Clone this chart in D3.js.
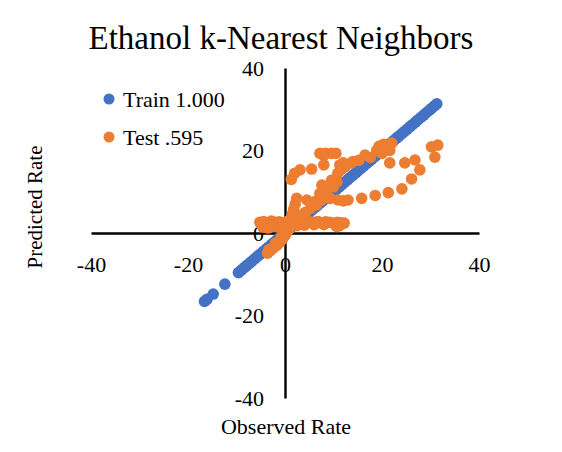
<!DOCTYPE html>
<html>
<head>
<meta charset="utf-8">
<script src="https://cdn.jsdelivr.net/npm/d3@7"></script>
<style>
  body { margin: 0; background: #fff; }
  svg text { font-family: "Liberation Serif", "Times New Roman", serif; fill: #000; }
</style>
</head>
<body>
<div id="chart"></div>
<script>
// chart data
var chartTitle = "Ethanol k-Nearest Neighbors";
var xTitle = "Observed Rate";
var yTitle = "Predicted Rate";
var seriesNames = ["Train 1.000", "Test .595"];
var tickValues = [-40, -20, 0, 20, 40];

var trainObserved = [-16.6, -16.1, -14.8, -12.4, -9.6, -9.0, -8.4, -7.9, -7.3, -6.8, -6.2, -5.6, -5.1, -4.5,
  -3.9, -3.4, -2.8, -2.3, -1.7, -1.1, -0.6, 0.0, 0.6, 1.1, 1.7, 2.2, 2.8, 3.4, 3.9, 4.5, 5.0, 5.6, 6.2, 6.7,
  7.3, 7.8, 8.4, 9.0, 9.5, 10.1, 10.6, 11.2, 11.8, 12.3, 12.9, 13.4, 14.0, 14.6, 15.1, 15.7, 16.2, 16.8,
  17.4, 17.9, 18.5, 19.0, 19.6, 20.2, 20.7, 21.3, 21.8, 22.4, 23.0, 23.5, 24.1, 24.6, 25.2, 25.8, 26.3,
  26.9, 27.4, 28.0, 28.6, 29.1, 29.7, 30.2, 30.8, 31.3];
var trainPredicted = [-16.6, -16.1, -14.8, -12.4, -9.6, -9.0, -8.4, -7.9, -7.3, -6.8, -6.2, -5.6, -5.1, -4.5,
  -3.9, -3.4, -2.8, -2.3, -1.7, -1.1, -0.6, 0.0, 0.6, 1.1, 1.7, 2.2, 2.8, 3.4, 3.9, 4.5, 5.0, 5.6, 6.2, 6.7,
  7.3, 7.8, 8.4, 9.0, 9.5, 10.1, 10.6, 11.2, 11.8, 12.3, 12.9, 13.4, 14.0, 14.6, 15.1, 15.7, 16.2, 16.8,
  17.4, 17.9, 18.5, 19.0, 19.6, 20.2, 20.7, 21.3, 21.8, 22.4, 23.0, 23.5, 24.1, 24.6, 25.2, 25.8, 26.3,
  26.9, 27.4, 28.0, 28.6, 29.1, 29.7, 30.2, 30.8, 31.3];

var testObserved = [
  -5.2, -4.4, -3.6, -2.8, -2.0, -1.2, -0.4, 0.4, 1.2, 2.0, 2.8, 3.6, 4.4, 5.2, 6.0, 6.8, 7.6, 8.4, 9.2, 10.0,
  10.8, 11.6, 12.2, 10.6, 11.2, -4.6, -3.5, -2.5, -1.4, -0.3, 0.8, 2.5, 4.0, 6.0, 8.0,
  -3.6, -3.0, -2.4, -1.7, -1.1, -0.5, 0.0, 0.4, 0.9, 1.3, -3.3, -2.0, -0.8,
  1.2, 1.5, 1.8, 2.1, 2.4, 3.0, 4.2, 5.3, 6.5,
  4.5, 6.2, 7.6, 9.3, 10.9, 12.0, 13.0, 15.8, 18.6, 21.3, 24.1, 26.1, 27.8, 26.8, 24.7,
  7.6, 8.2, 9.6, 10.7, 10.9, 11.6, 12.4, 13.7, 12.0, 11.3, 14.0, 15.2, 16.5, 17.6, 18.9, 19.4, 20.3,
  21.2, 22.0, 21.6, 20.0, 21.6, 7.2, 8.5, 10.0,
  1.3, 2.0, 3.1, 5.5, 8.0, 8.0, 7.2, 8.4, 9.6, 10.5,
  30.2, 31.5, 30.9];
var testPredicted = [
  2.6, 2.8, 2.5, 2.9, 2.6, 2.7, 2.5, 2.8, 2.6, 2.9, 2.6, 2.8, 2.5, 2.7, 2.6, 2.8, 2.5, 2.7, 2.6, 2.4,
  2.6, 2.5, 2.4, 1.6, 1.7, 1.4, 1.2, 1.6, 1.5, 1.3, 1.6, 1.8, 1.9, 2.0, 2.0,
  -4.9, -4.3, -3.6, -3.0, -2.3, -1.5, -0.6, 0.2, 1.0, 1.8, -4.0, -2.5, -1.0,
  3.4, 4.6, 5.8, 7.0, 8.4, 4.2, 5.0, 6.0, 6.8,
  8.0, 7.6, 8.0, 8.4, 8.0, 7.8, 8.0, 8.4, 9.1, 9.8, 10.7, 13.1, 15.3, 17.7, 17.0,
  11.6, 11.0, 12.8, 12.4, 14.5, 15.4, 16.1, 17.0, 17.0, 16.5, 17.3, 17.6, 18.9, 18.3, 20.0, 21.0, 21.5,
  20.4, 21.8, 20.0, 19.3, 17.0, 9.6, 10.2, 11.2,
  13.0, 14.5, 15.3, 15.5, 16.5, 18.8, 19.3, 19.3, 19.3, 19.3,
  20.9, 21.3, 18.4];

var colors = ["#4472C4", "#ED7D31"];

var width = 562, height = 452;

var svg = d3.select("#chart").append("svg")
  .attr("width", width)
  .attr("height", height);

var x = d3.scaleLinear().domain([-40, 40]).range([91, 479]);
var y = d3.scaleLinear().domain([-40, 40]).range([398, 68]);

// plain hyphen for negatives, like the original
var fmt = function(d){ return String(d); };

// axes cross at the origin, no tick marks
var xAxis = svg.append("g")
  .attr("transform", "translate(0," + y(0) + ")")
  .call(d3.axisBottom(x).tickValues(tickValues).tickFormat(fmt).tickSize(0).tickSizeOuter(0).tickPadding(23));
var yAxis = svg.append("g")
  .attr("transform", "translate(" + x(0) + ",0)")
  .call(d3.axisLeft(y).tickValues(tickValues).tickFormat(fmt).tickSize(0).tickSizeOuter(0).tickPadding(21));

[xAxis, yAxis].forEach(function(g){
  g.select(".domain").attr("stroke", "#000").attr("stroke-width", 2.4);
  g.selectAll("text")
    .style("font-family", "'Liberation Serif', 'Times New Roman', serif")
    .style("font-size", "22px")
    .attr("fill", "#000");
});

// points
var train = trainObserved.map(function(d, i){ return [d, trainPredicted[i]]; });
var test = testObserved.map(function(d, i){ return [d, testPredicted[i]]; });

svg.append("g").selectAll("circle")
  .data(train)
  .enter().append("circle")
  .attr("cx", function(d){ return x(d[0]); })
  .attr("cy", function(d){ return y(d[1]); })
  .attr("r", 5.8)
  .attr("fill", colors[0]);

svg.append("g").selectAll("circle")
  .data(test)
  .enter().append("circle")
  .attr("cx", function(d){ return x(d[0]); })
  .attr("cy", function(d){ return y(d[1]); })
  .attr("r", 5.8)
  .attr("fill", colors[1]);

// title
svg.append("text")
  .attr("x", 281)
  .attr("y", 49)
  .attr("text-anchor", "middle")
  .style("font-size", "33px")
  .text(chartTitle);

// axis titles
svg.append("text")
  .attr("x", 286)
  .attr("y", 434)
  .attr("text-anchor", "middle")
  .style("font-size", "22px")
  .text(xTitle);

svg.append("text")
  .attr("transform", "translate(42,207) rotate(-90)")
  .attr("text-anchor", "middle")
  .style("font-size", "21px")
  .text(yTitle);

// legend
var legend = svg.append("g").selectAll("g")
  .data(seriesNames)
  .enter().append("g")
  .attr("transform", function(d, i){ return "translate(109," + (99 + i * 38) + ")"; });

legend.append("circle")
  .attr("r", 5.5)
  .attr("fill", function(d, i){ return colors[i]; });

legend.append("text")
  .attr("x", 14)
  .attr("y", 7.5)
  .style("font-size", "22px")
  .text(function(d){ return d; });
</script>
</body>
</html>
